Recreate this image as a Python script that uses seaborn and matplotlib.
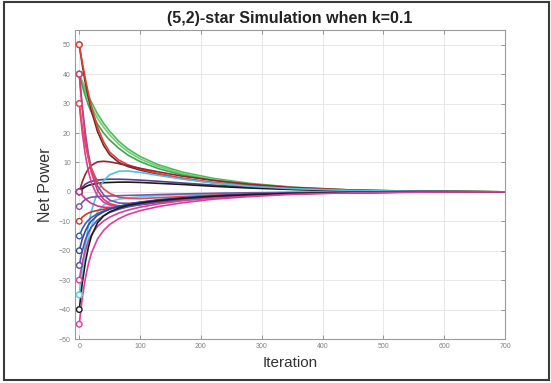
import numpy as np
import pandas as pd
import matplotlib
matplotlib.use("Agg")
import matplotlib.pyplot as plt
from matplotlib.patches import Rectangle
import seaborn as sns

# Sample iterations at which every node's net power is recorded
ITER = [0, 5, 10, 15, 20, 30, 40, 50, 65, 80, 100, 130, 170, 220, 280, 350, 450, 560, 700]

red50     = [50, 44, 38.5, 33.5, 29, 22, 17, 13.5, 10.8, 9.2, 7.8, 6.2, 4.6, 3.2, 2.0, 1.1, 0.45, 0.15, 0]
brown50   = [50, 43, 37, 32, 27.5, 20.5, 15.8, 12.6, 10, 8.6, 7.4, 6.0, 4.5, 3.1, 1.9, 1.05, 0.4, 0.13, 0]
green40a  = [40, 37.5, 35, 32.5, 30.5, 26.5, 23.3, 20.6, 17.2, 14.6, 12, 9.2, 6.7, 4.6, 2.9, 1.6, 0.6, 0.2, 0]
green40b  = [40, 37, 34, 31.5, 29, 25, 22, 19.4, 16.2, 13.7, 11.2, 8.6, 6.2, 4.2, 2.6, 1.45, 0.55, 0.18, 0]
green40c  = [40, 36, 32.5, 29.5, 27, 23, 20, 17.6, 14.8, 12.5, 10.3, 7.9, 5.7, 3.9, 2.4, 1.3, 0.5, 0.15, 0]
purple40  = [40, 29, 20, 13, 8, 2, -1, -2.8, -3.8, -3.9, -3.6, -3.0, -2.2, -1.5, -0.9, -0.5, -0.18, -0.05, 0]
pink40    = [40, 28, 18.5, 11.5, 6.5, 0.5, -2.5, -4, -4.8, -4.8, -4.3, -3.5, -2.6, -1.7, -1.0, -0.55, -0.2, -0.06, 0]
magenta30 = [30, 20, 12.5, 7, 3, -1.5, -3.5, -4.5, -5, -4.9, -4.4, -3.6, -2.7, -1.8, -1.1, -0.6, -0.2, -0.07, 0]
red30     = [30, 22, 16, 11.5, 8, 3.5, 1, -0.5, -1.8, -2.2, -2.3, -2.0, -1.6, -1.1, -0.7, -0.4, -0.15, -0.05, 0]
darkred0  = [0, 3.5, 6, 7.8, 9, 10.2, 10.4, 10.2, 9.6, 8.9, 8.0, 6.8, 5.3, 3.9, 2.6, 1.5, 0.6, 0.2, 0]
purple0   = [0, 1.6, 2.6, 3.2, 3.6, 4.0, 4.2, 4.3, 4.3, 4.2, 4.0, 3.6, 3.0, 2.3, 1.6, 0.9, 0.35, 0.1, 0]
black0    = [0, 1, 1.7, 2.2, 2.5, 2.9, 3.1, 3.2, 3.3, 3.3, 3.2, 2.9, 2.5, 1.9, 1.3, 0.8, 0.3, 0.1, 0]
magenta0  = [0, -1.2, -2.3, -3.2, -3.9, -4.8, -5.2, -5.3, -5.1, -4.8, -4.2, -3.4, -2.6, -1.8, -1.1, -0.6, -0.22, -0.07, 0]
purple_5  = [-5, -3.5, -2.6, -2.1, -1.8, -1.6, -1.5, -1.4, -1.3, -1.2, -1.1, -0.9, -0.7, -0.5, -0.3, -0.17, -0.06, -0.02, 0]
red_10    = [-10, -8.6, -7.8, -7.2, -6.8, -6.3, -5.9, -5.6, -5.1, -4.7, -4.1, -3.4, -2.6, -1.8, -1.1, -0.6, -0.22, -0.07, 0]
blue_15   = [-15, -12.5, -10.8, -9.6, -8.7, -7.4, -6.5, -5.8, -5.0, -4.3, -3.6, -2.8, -2.1, -1.4, -0.9, -0.5, -0.18, -0.06, 0]
blue_20   = [-20, -16, -13.3, -11.3, -9.9, -8.0, -6.8, -5.9, -4.9, -4.2, -3.5, -2.7, -2.0, -1.4, -0.85, -0.47, -0.17, -0.05, 0]
purple_25 = [-25, -20, -16.3, -13.8, -12, -9.6, -8.1, -7.0, -5.9, -5.1, -4.3, -3.4, -2.5, -1.7, -1.05, -0.58, -0.21, -0.07, 0]
magenta_30 = [-30, -24, -19.8, -16.8, -14.6, -11.7, -9.9, -8.6, -7.2, -6.2, -5.2, -4.1, -3.0, -2.1, -1.3, -0.7, -0.26, -0.08, 0]
cyan_35a  = [-35, -26, -18, -11.5, -6.5, 0, 3.8, 5.8, 7, 7.1, 6.6, 5.6, 4.3, 3.0, 1.9, 1.1, 0.45, 0.15, 0]
cyan_35b  = [-35, -27, -20.5, -15.5, -11.5, -6.8, -4.5, -3.3, -2.5, -2.1, -1.7, -1.3, -0.95, -0.65, -0.4, -0.22, -0.08, -0.03, 0]
black_40  = [-40, -31, -24, -18.8, -15, -10.5, -8.2, -6.8, -5.5, -4.6, -3.8, -3.0, -2.2, -1.5, -0.95, -0.52, -0.19, -0.06, 0]
magenta_45 = [-45, -36, -29.5, -24.5, -20.8, -16, -13.1, -11.1, -9.1, -7.7, -6.4, -5.0, -3.7, -2.5, -1.6, -0.85, -0.32, -0.1, 0]

SERIES = {
    "green40a": (green40a, "#4cbb5a"),
    "green40b": (green40b, "#6fcf70"),
    "green40c": (green40c, "#3da84c"),
    "brown50": (brown50, "#6b2a2a"),
    "red50": (red50, "#e0403a"),
    "darkred0": (darkred0, "#9b2335"),
    "purple0": (purple0, "#5b3f86"),
    "black0": (black0, "#1c1c1c"),
    "cyan_35a": (cyan_35a, "#4ec2de"),
    "cyan_35b": (cyan_35b, "#5fd0e6"),
    "purple40": (purple40, "#7b55a6"),
    "pink40": (pink40, "#e8356f"),
    "magenta30": (magenta30, "#d2419a"),
    "red30": (red30, "#e04a5a"),
    "magenta0": (magenta0, "#c8378e"),
    "purple_5": (purple_5, "#7b55a6"),
    "red_10": (red_10, "#c0392b"),
    "blue_15": (blue_15, "#3c5fb5"),
    "blue_20": (blue_20, "#2f4c9e"),
    "purple_25": (purple_25, "#5b4ea8"),
    "magenta_30": (magenta_30, "#d2419a"),
    "black_40": (black_40, "#1c1c1c"),
    "magenta_45": (magenta_45, "#dd3f9b"),
}

rows = []
for name, (vals, _) in SERIES.items():
    for it, v in zip(ITER, vals):
        rows.append({"series": name, "iteration": it, "power": v})
df = pd.DataFrame(rows)
palette = {name: c for name, (_, c) in SERIES.items()}

sns.set_theme(style="whitegrid")
plt.rcParams["font.family"] = ["Liberation Sans", "DejaVu Sans"]

fig = plt.figure(figsize=(5.51, 3.83), dpi=100)
ax = fig.add_axes([75 / 551, 1 - 339 / 383, (505 - 75) / 551, (339 - 30) / 383])
ax.set_facecolor("white")

sns.lineplot(data=df, x="iteration", y="power", hue="series", palette=palette,
             estimator=None, sort=False, legend=False, linewidth=1.2, ax=ax)

start = df[df["iteration"] == 0]
sns.scatterplot(data=start, x="iteration", y="power", hue="series", palette=palette,
                marker="o", s=16, legend=False, ax=ax, zorder=5)
pts = ax.collections[-1]
pts.set_edgecolors(pts.get_facecolors())
pts.set_facecolors("white")
pts.set_linewidths(1.0)

ax.set_xlim(-7, 700)
ax.set_ylim(-50, 55)
ax.set_xticks(np.arange(0, 701, 100))
ax.set_yticks(np.arange(-50, 51, 10))
ax.grid(True, color="#e4e4e4", linewidth=0.6)
for sp in ax.spines.values():
    sp.set_color("#9a9a9a")
    sp.set_linewidth(0.8)
ax.tick_params(direction="in", length=3, width=0.6, color="#888888",
               labelsize=5, labelcolor="#808080", top=True, right=True,
               bottom=True, left=True, pad=3)

ax.set_xlabel("Iteration", fontsize=11, color="#333333", labelpad=4)
ax.set_ylabel("Net Power", fontsize=11.5, color="#333333", labelpad=4)
fig.text(0.525, 0.953, "(5,2)-star Simulation when k=0.1", ha="center", va="center",
         fontsize=11.5, fontweight="bold", color="#222222")

fig.patches.append(Rectangle((4 / 551, 1 - 380 / 383), 545 / 551, 378 / 383,
                             transform=fig.transFigure, fill=False,
                             edgecolor="#3a3a3a", linewidth=1.5))

fig.savefig("out.png", dpi=100, facecolor="white")
